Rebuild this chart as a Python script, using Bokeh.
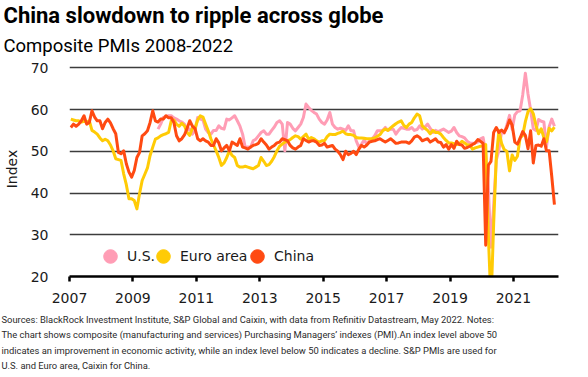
import math
import pandas as pd
from bokeh.plotting import figure
from bokeh.models import Range1d, FixedTicker, Legend, LegendItem, Title
from bokeh.embed import file_html
from bokeh.resources import INLINE

# ---------------- data (monthly composite PMI) ----------------
china_start = "2007-01-01"
china = [
    55.7, 56.5, 56.0, 56.5, 57.3, 58.5, 56.5, 56.9, 59.7, 58.2, 57.3, 57.3,  # 2007
    55.4, 56.9, 57.7, 56.8, 55.4, 54.2, 49.7, 49.4, 50.1, 47.0, 45.0, 43.8,  # 2008
    45.4, 48.5, 49.7, 53.7, 54.2, 54.9, 56.9, 59.7, 57.3, 57.0, 57.7, 57.7,  # 2009
    58.5, 58.0, 58.0, 56.9, 53.7, 52.5, 53.0, 53.9, 55.5, 57.3, 56.0, 55.4,  # 2010
    53.0, 52.5, 53.0, 52.5, 52.2, 51.4, 51.4, 53.0, 52.0, 50.1, 50.8, 51.4,  # 2011
    50.1, 52.2, 51.8, 51.4, 53.0, 51.0, 50.8, 50.5, 51.0, 51.4, 51.6, 51.9,  # 2012
    53.0, 52.2, 51.5, 50.5, 51.0, 51.4, 52.0, 52.2, 53.0, 52.8, 52.5, 51.4,  # 2013
    50.8, 50.5, 51.0, 51.4, 53.0, 52.6, 52.2, 52.5, 52.5, 52.2, 51.4, 51.5,  # 2014
    51.9, 51.0, 51.2, 51.4, 50.5, 50.0, 49.2, 48.0, 50.0, 49.2, 49.5, 50.0,  # 2015
    49.2, 50.5, 51.4, 51.0, 51.5, 52.2, 52.4, 52.5, 52.8, 53.0, 52.6, 52.2,  # 2016
    52.6, 53.0, 52.5, 51.9, 52.0, 52.2, 52.2, 52.2, 51.9, 52.5, 53.4, 53.7,  # 2017
    53.3, 52.5, 52.8, 53.0, 52.2, 52.6, 53.0, 52.2, 52.1, 51.0, 51.6, 50.5,  # 2018
    51.6, 50.7, 52.4, 51.6, 51.5, 50.7, 50.9, 51.2, 51.6, 52.0, 52.8, 52.4,  # 2019
    51.9, 27.5, 46.7, 47.6, 54.5, 55.7, 54.5, 55.1, 54.5, 55.7, 57.5, 56.3,  # 2020
    52.2, 51.7, 53.1, 54.7, 53.8, 50.6, 54.9, 47.2, 51.4, 51.5, 51.2, 53.0,  # 2021
    50.1, 50.1, 43.9, 37.2,                                                  # 2022
]

euro_start = "2007-01-01"
euro = [
    57.7, 57.5, 57.3, 57.3, 57.0, 57.2, 57.0, 57.3, 55.0, 54.6, 54.1, 53.2,  # 2007
    52.5, 52.9, 52.5, 51.5, 50.1, 48.2, 48.0, 47.8, 44.6, 42.0, 38.6, 38.6,  # 2008
    38.2, 36.2, 39.8, 43.0, 44.5, 46.0, 49.0, 51.0, 52.9, 53.2, 53.7, 54.0,  # 2009
    54.2, 54.5, 57.3, 57.5, 56.5, 56.0, 56.7, 56.1, 54.5, 53.8, 55.5, 55.5,  # 2010
    57.5, 58.5, 58.2, 56.5, 54.9, 53.0, 51.5, 50.1, 48.5, 46.6, 47.2, 48.5,  # 2011
    50.1, 49.0, 48.5, 46.6, 46.2, 46.2, 46.4, 46.2, 46.0, 45.8, 46.2, 46.6,  # 2012
    48.5, 47.6, 46.6, 46.8, 47.6, 48.7, 50.1, 51.2, 51.7, 52.2, 52.5, 52.8,  # 2013
    53.3, 53.7, 53.5, 52.9, 53.5, 54.1, 52.9, 53.3, 53.0, 52.5, 52.2, 52.5,  # 2014
    52.5, 53.5, 54.1, 54.0, 54.0, 54.3, 54.5, 54.8, 54.2, 54.0, 54.0, 53.8,  # 2015
    53.3, 53.2, 53.2, 53.1, 53.0, 53.0, 53.0, 53.2, 53.6, 54.0, 54.9, 55.3,  # 2016
    55.0, 55.6, 56.1, 56.6, 57.0, 57.3, 56.2, 55.7, 56.5, 56.9, 58.0, 58.9,  # 2017
    58.5, 56.1, 55.5, 55.0, 54.2, 55.0, 54.5, 54.5, 54.1, 53.3, 52.6, 52.0,  # 2018
    52.0, 51.8, 51.6, 51.8, 52.4, 52.0, 51.5, 51.5, 50.5, 50.8, 51.0, 51.2,  # 2019
    51.3, 51.6, 29.7, 13.6, 32.5, 48.5, 54.9, 51.9, 50.4, 50.0, 45.3, 49.1,  # 2020
    47.8, 48.8, 53.2, 53.8, 57.1, 59.5, 60.2, 59.0, 56.2, 54.2, 55.4, 53.3,  # 2021
    52.3, 55.5, 54.9, 55.8,                                                  # 2022
]

us_start = "2009-10-01"
us = [
    55.3, 56.5, 58.1,                                                        # 2009 Q4
    58.3, 58.5, 58.5, 58.0, 57.7, 57.3, 57.0, 56.5, 55.0, 55.4, 54.1, 55.0,  # 2010
    58.1, 57.7, 57.5, 55.3, 54.5, 54.1, 55.0, 55.0, 56.1, 55.5, 55.3, 57.7,  # 2011
    57.5, 58.0, 58.5, 57.3, 56.0, 54.1, 50.9, 51.0, 50.9, 52.5, 52.9, 53.7,  # 2012
    54.5, 54.9, 54.1, 54.1, 55.0, 55.8, 56.9, 57.3, 56.5, 50.1, 56.9, 56.5,  # 2013
    55.5, 54.9, 55.7, 56.5, 58.1, 61.3, 60.5, 59.8, 59.3, 58.9, 57.7, 56.9,  # 2014
    56.5, 57.5, 59.3, 56.5, 55.7, 55.3, 55.5, 55.3, 55.0, 56.1, 54.9, 54.9,  # 2015
    52.5, 51.0, 51.7, 52.7, 51.7, 52.5, 53.0, 53.7, 54.9, 54.9, 55.0, 55.7,  # 2016
    55.0, 55.3, 55.3, 54.1, 55.0, 55.7, 55.5, 55.3, 55.3, 55.7, 55.0, 55.2,  # 2017
    56.1, 55.3, 55.8, 56.5, 55.5, 54.5, 55.0, 54.7, 55.0, 55.3, 54.9, 54.5,  # 2018
    54.8, 55.7, 54.5, 53.7, 53.5, 53.2, 52.4, 52.0, 51.9, 52.0, 52.2, 53.0,  # 2019
    53.3, 49.6, 40.9, 27.0, 37.0, 47.9, 50.3, 54.7, 54.3, 56.3, 58.6, 55.3,  # 2020
    58.7, 59.5, 59.7, 63.5, 68.7, 63.7, 59.9, 55.4, 55.0, 57.6, 57.2, 57.0,  # 2021
    51.1, 55.9, 57.7, 56.0,                                                  # 2022
]

series_names = ["U.S.", "Euro area", "China"]
series_colors = ["#FF9DB5", "#FFCB05", "#FF4A12"]
x_ticks = [2007, 2009, 2011, 2013, 2015, 2017, 2019, 2021]
y_ticks = [20, 30, 40, 50, 60, 70]

title_text = "China slowdown to ripple across globe"
subtitle_text = "Composite PMIs 2008-2022"
footnote_lines = [
    "Sources: BlackRock Investment Institute, S&P Global and Caixin, with data from Refinitiv Datastream, May 2022. Notes:",
    "The chart shows composite (manufacturing and services) Purchasing Managers\u2019 indexes (PMI).An index level above 50",
    "indicates an improvement in economic activity, while an index level below 50 indicates a decline. S&P PMIs are used for",
    "U.S. and Euro area, Caixin for China.",
]


def month_positions(start, n):
    d = pd.date_range(start, periods=n, freq="MS")
    return list(d.year + (d.month - 0.5) / 12.0)


x_china = month_positions(china_start, len(china))
x_euro = month_positions(euro_start, len(euro))
x_us = month_positions(us_start, len(us))

# ---------------- figure ----------------
p = figure(
    width=588, height=377,
    x_range=Range1d(2007, 2022.42), y_range=Range1d(20, 71.5),
    output_backend="svg", toolbar_location=None, tools="",
    min_border_left=68, min_border_right=30, min_border_top=0, min_border_bottom=101,
)
p.outline_line_color = None
p.background_fill_color = "white"
p.border_fill_color = "white"

tick_font = "DejaVu Sans"
# x axis
p.xaxis.ticker = FixedTicker(ticks=x_ticks)
p.xaxis.major_label_overrides = {t: str(t) for t in x_ticks}
p.xaxis.axis_line_color = "black"
p.xaxis.axis_line_width = 2.5
p.xaxis.major_tick_line_color = "black"
p.xaxis.major_tick_line_width = 2.5
p.xaxis.major_tick_out = 5
p.xaxis.major_tick_in = 0
p.xaxis.minor_tick_line_color = None
p.xaxis.major_label_standoff = 11
p.xaxis.major_label_text_font = tick_font
p.xaxis.major_label_text_font_size = "14px"
p.xaxis.major_label_text_color = "#1a1a1a"

# y axis
p.yaxis.ticker = FixedTicker(ticks=y_ticks)
p.yaxis.axis_line_color = None
p.yaxis.major_tick_line_color = None
p.yaxis.minor_tick_line_color = None
p.yaxis.major_label_standoff = 15
p.yaxis.major_label_text_font = tick_font
p.yaxis.major_label_text_font_size = "14px"
p.yaxis.major_label_text_color = "#1a1a1a"
p.yaxis.axis_label = "Index"
p.yaxis.axis_label_text_font = tick_font
p.yaxis.axis_label_text_font_size = "14px"
p.yaxis.axis_label_text_font_style = "normal"
p.yaxis.axis_label_text_color = "#1a1a1a"
p.yaxis.axis_label_standoff = 8

p.xgrid.grid_line_color = None
p.ygrid.ticker = FixedTicker(ticks=y_ticks[1:])
p.ygrid.grid_line_color = "#3c3c3c"
p.ygrid.grid_line_width = 1.4

# lines (US underneath, China on top)
xs = [x_us, x_euro, x_china]
ys = [us, euro, china]
for name, color, xv, yv in zip(series_names, series_colors, xs, ys):
    p.line(xv, yv, line_color=color, line_width=3, line_join="round")

# legend: one single-item legend per series so each entry sits where the reference has it
legend_offsets = [24, 77, 171]
for name, color, lx in zip(series_names, series_colors, legend_offsets):
    r = p.scatter(x=[math.nan], y=[math.nan], marker="circle", size=14,
                  fill_color=color, line_color=color)
    lg = Legend(items=[LegendItem(label=name, renderers=[r])], location=(lx, 3),
                glyph_width=34, glyph_height=34, label_standoff=-7,
                padding=0, margin=0, border_line_color=None, background_fill_alpha=0,
                label_text_font=tick_font, label_text_font_size="14px",
                label_text_color="#1a1a1a")
    p.add_layout(lg, "center")

# titles: later additions sit farther from the frame
p.add_layout(Title(text=subtitle_text, align="left", offset=-66, standoff=10,
                   text_font="Roboto", text_font_size="18.5px", text_font_style="normal",
                   text_color="#000000"), "above")
p.add_layout(Title(text=title_text, align="left", offset=-66, standoff=0,
                   text_font="Roboto", text_font_size="22px", text_font_style="bold",
                   text_color="#000000"), "above")

# small spacer between the x axis and the footnote
p.add_layout(Title(text=" ", align="left", standoff=3, text_font_size="2px"), "below")

# footnote: one multi-line title below the x axis
p.add_layout(Title(text="\n".join(footnote_lines), align="left", vertical_align="top",
                   offset=-68, standoff=2, text_line_height=1.41,
                   text_font="Roboto", text_font_size="9.4px",
                   text_font_style="normal", text_color="#2a2a2a"), "below")

open("out.html", "w").write(file_html(p, INLINE))
